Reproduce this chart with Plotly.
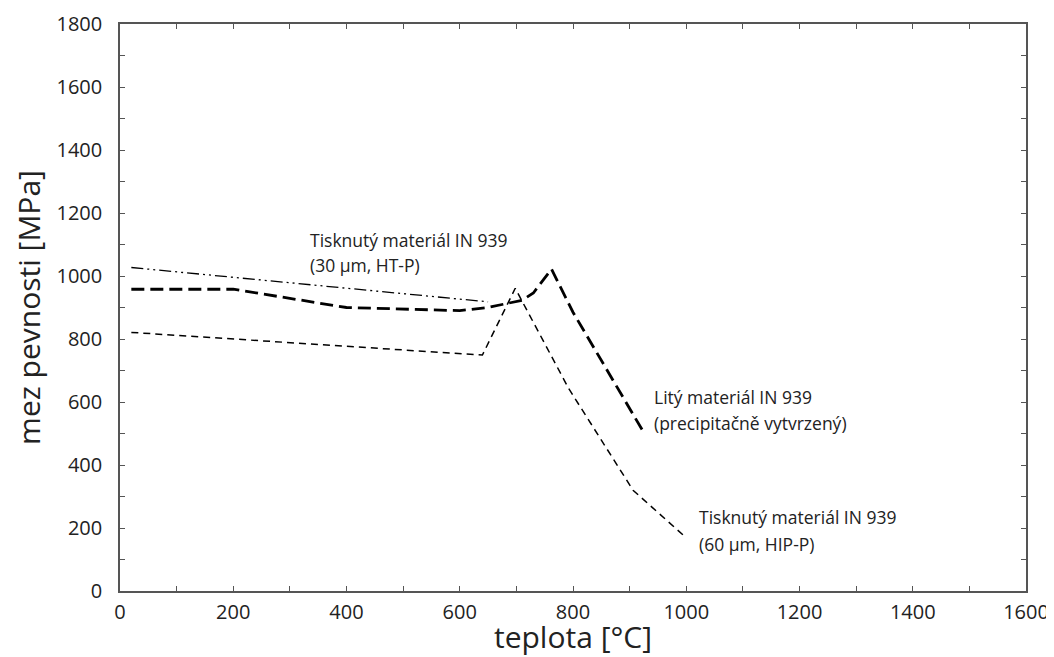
import plotly.graph_objects as go

# Printed IN 939 (30 um, HT-P) - dash-dot
ht_x = [20, 650]
ht_y = [1027, 918]

# Cast IN 939 (precipitation hardened) - long dash
cast_x = [20, 200, 400, 600, 650, 710, 730, 762, 800, 924]
cast_y = [958, 958, 900, 890, 900, 923, 946, 1022, 885, 506]

# Printed IN 939 (60 um, HIP-P) - short dash
hip_x = [20, 640, 698, 792, 906, 998]
hip_y = [821, 749, 961, 644, 320, 172]

# label lines: text, x, y (data coordinates)
label_text = ["Tisknutý materiál IN 939", "(30 µm, HT-P)",
              "Litý materiál IN 939", "(precipitačně vytvrzený)",
              "Tisknutý materiál IN 939", "(60 µm, HIP-P)"]
label_x = [332, 332, 939, 939, 1019, 1019]
label_y = [1114, 1036, 616, 533, 235, 149]

fig = go.Figure()
fig.add_trace(go.Scatter(x=ht_x, y=ht_y, mode="lines",
                         line=dict(color="black", width=1.3, dash="12px,4px,2px,4px,2px,4px")))
fig.add_trace(go.Scatter(x=cast_x, y=cast_y, mode="lines",
                         line=dict(color="black", width=2.8, dash="13px,6px")))
fig.add_trace(go.Scatter(x=hip_x, y=hip_y, mode="lines",
                         line=dict(color="black", width=1.5, dash="7px,5px")))

for text, x, y in zip(label_text, label_x, label_y):
    fig.add_annotation(x=x, y=y, text=text, showarrow=False, xanchor="left", yanchor="middle",
                       align="left", font=dict(family="Open Sans", size=17.5, color="#222"))

axis_common = dict(
    showgrid=False, zeroline=False, showline=True, linecolor="#555", linewidth=1.5,
    mirror="allticks", ticks="inside", ticklen=5, tickcolor="#555", tickwidth=1,
    tickfont=dict(family="Open Sans", size=20, color="#222"), automargin=False,
)

fig.update_xaxes(range=[0, 1600], dtick=200, ticklabelstandoff=2,
                 minor=dict(dtick=100, ticks="inside", ticklen=5, tickcolor="#555"),
                 title=dict(text="teplota [°C]", font=dict(family="Open Sans", size=30, color="#222"), standoff=0),
                 **axis_common)
fig.update_yaxes(range=[0, 1800], dtick=200, ticklabelstandoff=12,
                 minor=dict(dtick=100, ticks="inside", ticklen=5, tickcolor="#555"),
                 title=dict(text="mez pevnosti [MPa]", font=dict(family="Open Sans", size=30, color="#222"), standoff=12),
                 **axis_common)

# page body has an 8px margin; size the figure so the plot area lands where the reference has it
fig.update_layout(
    width=1046, height=649, showlegend=False,
    plot_bgcolor="white", paper_bgcolor="white",
    margin=dict(l=112, r=28, t=16, b=66),
)

fig.write_html("out.html")
